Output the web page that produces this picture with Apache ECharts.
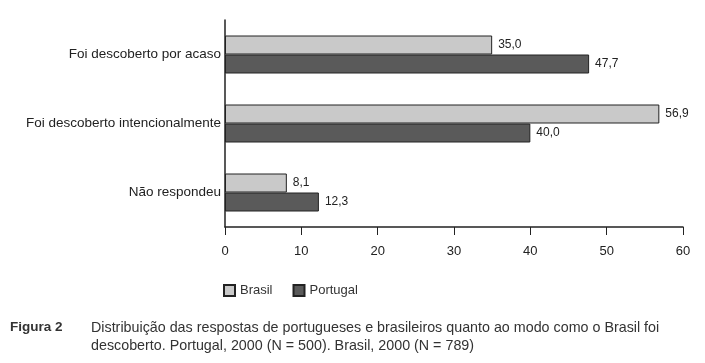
<!DOCTYPE html>
<html><head><meta charset="utf-8">
<script src="https://cdn.jsdelivr.net/npm/echarts@6/dist/echarts.min.js"></script>
<style>html,body{margin:0;padding:0;background:#fff}#c{width:705px;height:363px}</style>
</head><body><div id="c"></div>
<script>
const categories = ['Foi descoberto por acaso', 'Foi descoberto intencionalmente', 'Não respondeu'];
const brasil = [35.0, 56.9, 8.1];
const portugal = [47.7, 40.0, 12.3];
const xTicks = [0, 10, 20, 30, 40, 50, 60];
const seriesNames = ['Brasil', 'Portugal'];

const chart = echarts.init(document.getElementById('c'));
const font = 'Liberation Sans, Arial, sans-serif';
const fmt = p => p.value.toFixed(1).replace('.', ',');
chart.setOption({
  backgroundColor: '#fff',
  animation: false,
  textStyle: { fontFamily: font },
  grid: { left: 225, top: 20, width: 458, height: 207 },
  xAxis: {
    type: 'value', min: xTicks[0], max: xTicks[xTicks.length - 1], interval: 10,
    axisLine: { show: true, lineStyle: { color: '#222', width: 1.5 } },
    axisTick: { show: true, length: 8, lineStyle: { color: '#222' } },
    axisLabel: { color: '#222', fontSize: 13, margin: 18 },
    splitLine: { show: false }
  },
  yAxis: {
    type: 'category', data: categories, inverse: true,
    axisLine: { show: true, lineStyle: { color: '#222', width: 1.5 } },
    axisTick: { show: false },
    axisLabel: { color: '#222', fontSize: 13.5, margin: 4 }
  },
  legend: {
    data: seriesNames, left: 218, top: 279, itemWidth: 11, itemHeight: 11, itemGap: 20, icon: 'rect',
    textStyle: { color: '#333', fontSize: 13, fontFamily: font }
  },
  series: [
    { name: seriesNames[0], type: 'bar', data: brasil, barWidth: 19, barGap: '0%',
      itemStyle: { color: '#c9c9c9', borderColor: '#222', borderWidth: 1 },
      label: { show: true, position: 'right', formatter: fmt, color: '#222', fontSize: 12, distance: 6 } },
    { name: seriesNames[1], type: 'bar', data: portugal, barWidth: 19, barGap: '0%',
      itemStyle: { color: '#5a5a5a', borderColor: '#222', borderWidth: 1 },
      label: { show: true, position: 'right', formatter: fmt, color: '#222', fontSize: 12, distance: 6 } }
  ],
  graphic: [
    { type: 'text', left: 10, top: 320, style: { text: 'Figura 2', font: 'bold 13.5px ' + font, fill: '#333' } },
    { type: 'text', left: 91, top: 319, style: { text: 'Distribuição das respostas de portugueses e brasileiros quanto ao modo como o Brasil foi\ndescoberto. Portugal, 2000 (N = 500). Brasil, 2000 (N = 789)', font: '14.3px ' + font, fill: '#333', lineHeight: 18 } }
  ]
});
</script></body></html>
